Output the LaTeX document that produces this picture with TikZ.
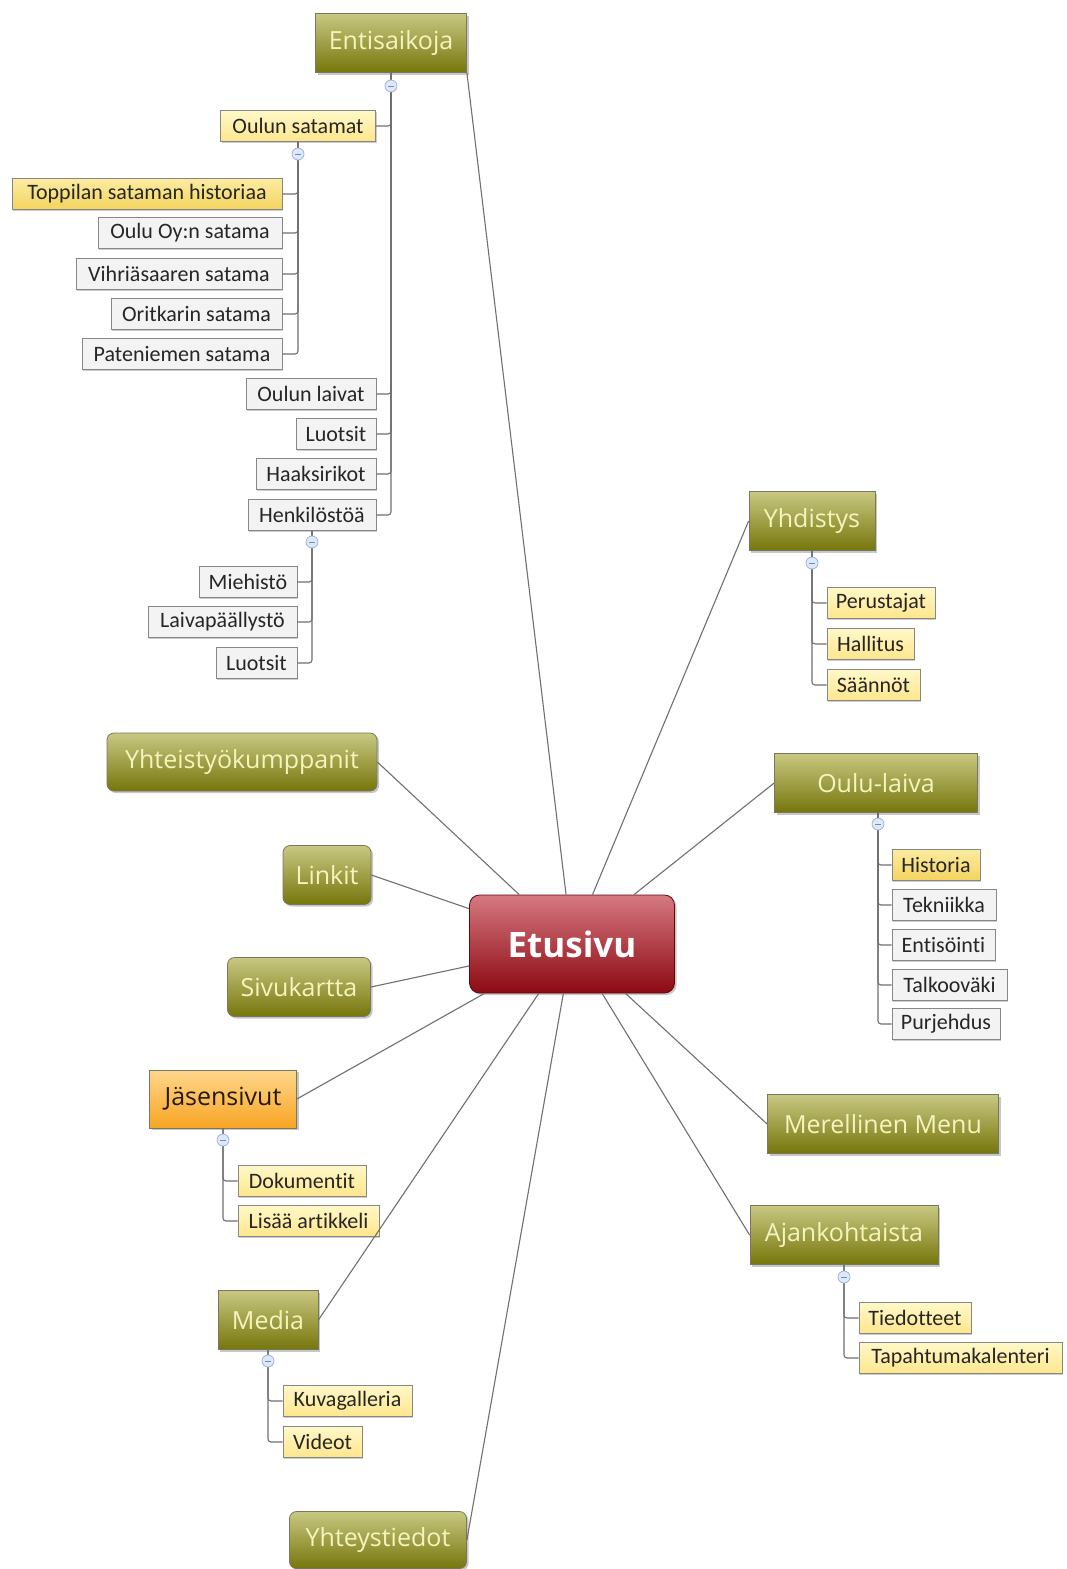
\documentclass[tikz,border=0pt]{standalone}
\usepackage{fontspec}
\setmainfont{Open Sans}
\newfontfamily\calfont[Ligatures={NoCommon}]{Carlito}
\usetikzlibrary{shadows}
\definecolor{olTop}{RGB}{200,200,130}
\definecolor{olBot}{RGB}{118,118,12}
\definecolor{olText}{RGB}{246,244,190}
\definecolor{mainBorder}{RGB}{120,120,95}
\definecolor{kidBorder}{RGB}{135,135,135}
\definecolor{yTop}{RGB}{255,248,200}
\definecolor{yBot}{RGB}{255,230,140}
\definecolor{yyTop}{RGB}{252,236,160}
\definecolor{yyBot}{RGB}{244,212,95}
\definecolor{gryFill}{RGB}{243,243,243}
\definecolor{orTop}{RGB}{255,214,140}
\definecolor{orBot}{RGB}{247,165,35}
\definecolor{redTop}{RGB}{214,120,128}
\definecolor{redBot}{RGB}{140,10,18}
\definecolor{lineGray}{RGB}{112,112,112}
\definecolor{tglFill}{RGB}{222,232,250}
\definecolor{tglBorder}{RGB}{150,175,220}
\begin{document}
\begin{tikzpicture}[x=1pt,y=-1pt,
  shad/.style={drop shadow={shadow xshift=2pt,shadow yshift=-2pt,opacity=0.22,fill=black}},
  mainnode/.style={draw=mainBorder, line width=0.8pt, top color=olTop, bottom color=olBot,
    text=olText, font=\fontsize{25}{29}\selectfont, inner sep=0pt, minimum height=59pt, shad},
  mainround/.style={mainnode, rounded corners=7pt},
  kid/.style={draw=kidBorder, line width=0.8pt, font=\calfont\fontsize{22}{26}\selectfont,
    inner sep=0pt, minimum height=31pt, text=black!85,
    drop shadow={shadow xshift=1.2pt,shadow yshift=-1.2pt,opacity=0.2,fill=black}},
  yel/.style={kid, top color=yTop, bottom color=yBot},
  yelstrong/.style={kid, top color=yyTop, bottom color=yyBot},
  gry/.style={kid, fill=gryFill},
  toggle/.style={circle, draw=tglBorder, fill=tglFill, line width=0.7pt, minimum size=12pt, inner sep=0pt,
    path picture={\draw[tglBorder!80!black, line width=0.9pt] ([xshift=-3pt]path picture bounding box.center) -- ([xshift=3pt]path picture bounding box.center);}},
  conn/.style={draw=lineGray, line width=1.1pt},
  branch/.style={draw=lineGray, line width=1.1pt, rounded corners=3pt}
]
\useasboundingbox[fill=white] (0,0) rectangle (1066,1569);

% central node
\node[draw=redBot!70!black, line width=0.8pt, top color=redTop, bottom color=redBot, rounded corners=10pt,
  minimum width=205pt, minimum height=98pt, inner sep=0pt, text=white,
  font=\bfseries\fontsize{35}{41}\selectfont, shad] (etu) at (572,944) {Etusivu};

% main topics
\node[mainnode, minimum width=151pt] (ent) at (391,43) {Entisaikoja};
\node[mainnode, minimum width=126pt] (yhd) at (812,521) {Yhdistys};
\node[mainnode, minimum width=203pt] (oul) at (876,783) {Oulu-laiva};
\node[mainnode, minimum width=231pt] (mer) at (883,1124) {Merellinen Menu};
\node[mainnode, minimum width=188pt] (ajk) at (844,1235) {Ajankohtaista};
\node[mainround, minimum width=177pt, minimum height=57pt] (yht) at (378,1540) {Yhteystiedot};
\node[mainnode, minimum width=100pt] (med) at (268,1320) {Media};
\node[draw=mainBorder, line width=0.8pt, top color=orTop, bottom color=orBot, text=black!80!brown,
  font=\fontsize{25}{29}\selectfont, inner sep=0pt, minimum width=147pt, minimum height=58pt, shad] (jas) at (223,1099) {Jäsensivut};
\node[mainround, minimum width=143pt] (siv) at (299,987) {Sivukartta};
\node[mainround, minimum width=88pt] (lin) at (327,875) {Linkit};
\node[mainround, minimum width=270pt, minimum height=58pt] (ytk) at (242,762) {Yhteistyökumppanit};

% Entisaikoja children
\node[yel, minimum width=155pt] (os) at (298,126) {Oulun satamat};
\node[yelstrong, minimum width=270pt] (topp) at (147,194) {Toppilan sataman historiaa};
\node[gry, minimum width=184pt] (ouy) at (190,233) {Oulu Oy:n satama};
\node[gry, minimum width=206pt] (vih) at (179,274) {Vihriäsaaren satama};
\node[gry, minimum width=171pt] (ori) at (196.5,314) {Oritkarin satama};
\node[gry, minimum width=200pt] (pat) at (182,354) {Pateniemen satama};
\node[gry, minimum width=130pt] (ola) at (311,394) {Oulun laivat};
\node[gry, minimum width=80pt] (luo) at (336,434) {Luotsit};
\node[gry, minimum width=120pt] (haa) at (316,474) {Haaksirikot};
\node[gry, minimum width=128pt] (hen) at (312,515) {Henkilöstöä};
\node[gry, minimum width=98pt] (mie) at (248,582) {Miehistö};
\node[gry, minimum width=149pt] (lpa) at (222.5,622) {Laivapäällystö};
\node[gry, minimum width=81pt] (luo2) at (256.5,663) {Luotsit};

% Yhdistys children
\node[yel, minimum width=108pt] (per) at (881,603) {Perustajat};
\node[yel, minimum width=87pt] (hal) at (870.5,644) {Hallitus};
\node[yel, minimum width=93pt] (saa) at (873.5,685) {Säännöt};

% Oulu-laiva children
\node[yelstrong, minimum width=88pt] (his) at (936,865) {Historia};
\node[gry, minimum width=104pt] (tek) at (944,905) {Tekniikka};
\node[gry, minimum width=103pt] (ents) at (943.5,945) {Entisöinti};
\node[gry, minimum width=115pt] (tal) at (949.5,985) {Talkooväki};
\node[gry, minimum width=108pt] (pur) at (946,1024) {Purjehdus};

% Ajankohtaista children
\node[yel, minimum width=112pt] (tie) at (915,1318) {Tiedotteet};
\node[yel, minimum width=203pt] (tap) at (960.5,1358) {Tapahtumakalenteri};

% Jäsensivut children
\node[yel, minimum width=128pt] (dok) at (302,1181) {Dokumentit};
\node[yel, minimum width=141pt] (lis) at (308.5,1221) {Lisää artikkeli};

% Media children
\node[yel, minimum width=129pt] (kuv) at (347.5,1401) {Kuvagalleria};
\node[yel, minimum width=79pt] (vid) at (322.5,1442) {Videot};

% connectors from the centre
\draw[conn] (etu) -- (ent.south east);
\draw[conn] (etu) -- (yhd.west);
\draw[conn] (etu) -- (oul.west);
\draw[conn] (etu) -- (mer.west);
\draw[conn] (etu) -- (ajk.west);
\draw[conn] (etu) -- (yht.east);
\draw[conn] (etu) -- (med.east);
\draw[conn] (etu) -- (jas.east);
\draw[conn] (etu) -- (siv.east);
\draw[conn] (etu) -- (lin.east);
\draw[conn] (etu) -- (ytk.east);

% tree branches
\foreach \c in {os,ola,luo,haa,hen} \draw[branch] (ent.south) |- (\c.east);
\foreach \c in {topp,ouy,vih,ori,pat} \draw[branch] (os.south) |- (\c.east);
\foreach \c in {mie,lpa,luo2} \draw[branch] (hen.south) |- (\c.east);
\foreach \c in {per,hal,saa} \draw[branch] (yhd.south) |- (\c.west);
\foreach \c in {his,tek,ents,tal,pur} \draw[branch] ([xshift=2pt]oul.south) |- (\c.west);
\foreach \c in {tie,tap} \draw[branch] (ajk.south) |- (\c.west);
\foreach \c in {dok,lis} \draw[branch] (jas.south) |- (\c.west);
\foreach \c in {kuv,vid} \draw[branch] (med.south) |- (\c.west);

% collapse toggles
\node[toggle] (t1) at (391,86) {};
\node[toggle] (t2) at (298,154) {};
\node[toggle] (t3) at (312,542) {};
\node[toggle] (t4) at (812,563) {};
\node[toggle] (t5) at (878,824) {};
\node[toggle] (t6) at (844,1277) {};
\node[toggle] (t7) at (223,1140) {};
\node[toggle] (t8) at (268,1361) {};
\end{tikzpicture}
\end{document}
